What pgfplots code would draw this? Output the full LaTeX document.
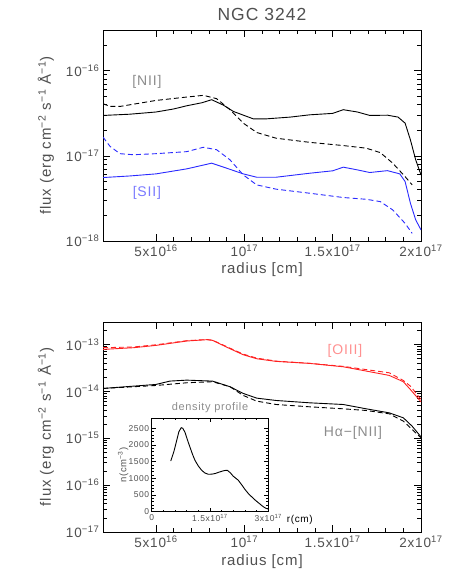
\documentclass[border=0pt]{standalone}
\usepackage{fontspec}
\setmainfont{Liberation Sans}[LetterSpace=6.0]
\usepackage{pgfplots}
\pgfplotsset{compat=1.18}
\definecolor{tg}{HTML}{505050}
\definecolor{lg}{HTML}{8C8C8C}
\definecolor{myblue}{HTML}{2A2AFF}
\definecolor{myred}{HTML}{FF2020}
\definecolor{lblue}{HTML}{7A7AFF}
\definecolor{lred}{HTML}{FF9090}
\tikzset{myln/.style={line width=0.9pt}, mydsh/.style={line width=0.9pt, dash pattern=on 5pt off 3pt}}
\begin{document}
\begin{tikzpicture}
\useasboundingbox (0,0) rectangle (452pt,585pt);
\node[font=\fontsize{17.5}{20}\selectfont, text=tg] at (262pt,571pt) {NGC 3242};
% ---------------- top panel ----------------
\begin{semilogyaxis}[scale only axis, width=318pt, height=211pt, anchor=south west, at={(103pt,344pt)},
    xmin=2, xmax=20, xtick={5,10,15,20},
    xticklabels={5x10\textsuperscript{16},10\textsuperscript{17},1.5x10\textsuperscript{17},2x10\textsuperscript{17}},
    minor x tick num=4, tick align=inside,
    axis line style={line width=1pt},
    major tick length=7pt, minor tick length=4pt,
    tick style={black, line width=0.6pt},
    tick label style={font=\fontsize{13.5}{15}\selectfont, text=tg},
    label style={font=\fontsize{15}{17}\selectfont, text=tg},
    xlabel={radius [cm]},
    ylabel={flux (erg cm\textsuperscript{−2} s\textsuperscript{−1} Å\textsuperscript{−1})},
    ylabel style={at={(axis description cs:-0.18,0.5)},anchor=center},
  ymin=1e-18, ymax=3e-16,
  ytick={1e-18,1e-17,1e-16},
  yticklabels={10\textsuperscript{−18},10\textsuperscript{−17},10\textsuperscript{−16}},
  minor ytick={2e-18,3e-18,4e-18,5e-18,6e-18,7e-18,8e-18,9e-18,2e-17,3e-17,4e-17,5e-17,6e-17,7e-17,8e-17,9e-17,2e-16,3e-16},
  xlabel style={at={(axis description cs:0.5,-0.137)},anchor=center},
]
\addplot[myln, black] coordinates {(2,2.98e-17) (3.5,3.08e-17) (5,3.27e-17) (6,3.55e-17) (6.74,3.87e-17) (7.6,4.2e-17) (8.15,4.56e-17) (8.8,3.95e-17) (9.38,3.32e-17) (10.5,2.72e-17) (11.27,2.72e-17) (12.6,2.85e-17) (13.7,3.03e-17) (15.0,3.15e-17) (15.6,3.48e-17) (16.4,3.27e-17) (17.1,2.98e-17) (18.1,3.0e-17) (18.7,2.85e-17) (19.1,2.42e-17) (19.4,1.54e-17) (19.7,8.97e-18) (20.0,5.97e-18)};
\addplot[mydsh, black] coordinates {(2,4.09e-17) (2.4,3.8e-17) (2.96,3.8e-17) (5,4.47e-17) (6.74,4.9e-17) (7.68,5.13e-17) (8.43,4.69e-17) (9.19,3.48e-17) (9.94,2.42e-17) (10.7,1.88e-17) (11.8,1.61e-17) (13.7,1.44e-17) (15.6,1.32e-17) (16.9,1.23e-17) (17.7,1.09e-17) (18.4,8.2e-18) (19.1,5.7e-18) (19.5,4.56e-18)};
\addplot[myln, myblue] coordinates {(2,5.56e-18) (3.5,5.8e-18) (5,6.14e-18) (6.74,7.03e-18) (8.15,8.2e-18) (9.0,7.16e-18) (9.94,6.14e-18) (10.7,5.61e-18) (11.8,5.61e-18) (13.7,6.25e-18) (15.0,6.67e-18) (15.6,7.36e-18) (16.4,6.84e-18) (17.1,6.37e-18) (18.1,6.7e-18) (18.8,6.14e-18) (19.1,4.99e-18) (19.4,2.78e-18) (19.7,1.77e-18) (20.0,1.35e-18)};
\addplot[mydsh, myblue] coordinates {(2,1.66e-17) (2.4,1.29e-17) (2.96,1.06e-17) (3.72,1.03e-17) (5,1.06e-17) (6.74,1.12e-17) (7.68,1.26e-17) (8.43,1.18e-17) (9.19,8.97e-18) (9.94,5.97e-18) (10.7,4.56e-18) (11.8,4.06e-18) (13.7,3.64e-18) (15.6,3.24e-18) (16.9,3.09e-18) (17.7,2.9e-18) (18.4,2.32e-18) (19.1,1.61e-18) (19.5,1.23e-18)};
\node[font=\fontsize{14}{16}\selectfont, text=lg] at (axis description cs:0.138,0.754) {[NII]};
\node[font=\fontsize{14}{16}\selectfont, text=lblue] at (axis description cs:0.138,0.227) {[SII]};
\end{semilogyaxis}
% ---------------- bottom panel ----------------
\begin{semilogyaxis}[scale only axis, width=318pt, height=210pt, anchor=south west, at={(103pt,53pt)},
    xmin=2, xmax=20, xtick={5,10,15,20},
    xticklabels={5x10\textsuperscript{16},10\textsuperscript{17},1.5x10\textsuperscript{17},2x10\textsuperscript{17}},
    minor x tick num=4, tick align=inside,
    axis line style={line width=1pt},
    major tick length=7pt, minor tick length=4pt,
    tick style={black, line width=0.6pt},
    tick label style={font=\fontsize{13.5}{15}\selectfont, text=tg},
    label style={font=\fontsize{15}{17}\selectfont, text=tg},
    xlabel={radius [cm]},
    ylabel={flux (erg cm\textsuperscript{−2} s\textsuperscript{−1} Å\textsuperscript{−1})},
    ylabel style={at={(axis description cs:-0.18,0.5)},anchor=center},
  ymin=1e-17, ymax=3e-13,
  ytick={1e-17,1e-16,1e-15,1e-14,1e-13},
  yticklabels={10\textsuperscript{−17},10\textsuperscript{−16},10\textsuperscript{−15},10\textsuperscript{−14},10\textsuperscript{−13}},
  minor ytick={2e-17,3e-17,4e-17,5e-17,6e-17,7e-17,8e-17,9e-17,2e-16,3e-16,4e-16,5e-16,6e-16,7e-16,8e-16,9e-16,2e-15,3e-15,4e-15,5e-15,6e-15,7e-15,8e-15,9e-15,2e-14,3e-14,4e-14,5e-14,6e-14,7e-14,8e-14,9e-14,2e-13,3e-13},
  xlabel style={at={(axis description cs:0.5,-0.143)},anchor=center},
]
\addplot[myln, myred] coordinates {(2,7.82e-14) (3.72,8.49e-14) (5,9.52e-14) (6.74,1.18e-13) (7.87,1.26e-13) (8.2,1.22e-13) (9.19,8.08e-14) (9.94,6.01e-14) (10.7,4.94e-14) (11.8,4.34e-14) (13.7,3.93e-14) (15.6,3.33e-14) (16.9,2.7e-14) (18.2,2.18e-14) (19.0,1.6e-14) (19.4,1.09e-14) (20.0,5.97e-15)};
\addplot[mydsh, myred] coordinates {(2,8.5e-14) (3.72,8.8e-14) (5,9.8e-14) (6.74,1.2e-13) (7.87,1.27e-13) (8.2,1.23e-13) (9.19,8.3e-14) (9.94,6.2e-14) (10.7,5.1e-14) (11.8,4.4e-14) (13.7,3.95e-14) (15.6,3.4e-14) (16.9,2.9e-14) (18.2,2.48e-14) (19.0,1.7e-14) (19.4,1.29e-14) (20.0,6.7e-15)};
\addplot[myln, black] coordinates {(2,1.15e-14) (5,1.4e-14) (5.79,1.65e-14) (6.74,1.73e-14) (8.2,1.65e-14) (9.19,1.25e-14) (9.94,9.0e-15) (10.7,7.15e-15) (11.8,6.37e-15) (13.7,5.68e-15) (15.6,5.23e-15) (16.9,4.23e-15) (18.2,3.47e-15) (19.0,2.72e-15) (19.5,1.8e-15) (20.0,1.07e-15)};
\addplot[mydsh, black] coordinates {(2,1.15e-14) (5,1.33e-14) (6.74,1.52e-14) (8.2,1.6e-14) (9.19,1.25e-14) (9.94,8.15e-15) (10.7,6.17e-15) (11.8,5.23e-15) (13.7,4.67e-15) (15.6,4.23e-15) (16.9,3.9e-15) (18.2,3.31e-15) (19.0,2.31e-15) (19.5,1.53e-15) (20.0,1.02e-15)};
\node[font=\fontsize{14}{16}\selectfont, text=lred] at (axis description cs:0.761,0.862) {[OIII]};
\node[font=\fontsize{14}{16}\selectfont, text=lg] at (axis description cs:0.786,0.471) {Hα−[NII]};
\end{semilogyaxis}
% ---------------- inset ----------------
\begin{axis}[scale only axis, anchor=south west, at={(151.7pt,73.3pt)},
  width=116.6pt, height=93.4pt, clip=false,
  xmin=0, xmax=3, ymin=0, ymax=2800,
  xtick={0,1.5,3}, xticklabels={0,1.5x10\textsuperscript{17},3x10\textsuperscript{17}},
  ytick={0,500,1000,1500,2000,2500}, yticklabels={0,500,1000,1500,2000,2500},
  minor x tick num=4, minor y tick num=4, tick align=inside,
  axis line style={line width=0.9pt},
  major tick length=4pt, minor tick length=2pt,
  tick style={black, line width=0.5pt},
  tick label style={font=\fontsize{8.5}{10}\selectfont, text=tg},
  yticklabel style={xshift=1pt},
  xticklabel style={yshift=1pt},
]
\addplot[line width=0.9pt, black] coordinates {(0.489,1518) (0.57,1800) (0.643,2134) (0.70,2400) (0.76,2520) (0.80,2500) (0.857,2380) (0.92,2150) (0.985,1934) (1.05,1720) (1.114,1539) (1.2,1370) (1.286,1241) (1.37,1160) (1.456,1122) (1.54,1125) (1.629,1143) (1.72,1180) (1.801,1211) (1.88,1235) (1.945,1241) (2.02,1170) (2.1,1062) (2.228,943) (2.32,800) (2.4,667) (2.49,540) (2.573,446) (2.68,330) (2.786,229) (2.87,150) (2.94,101) (3.0,80)};
\node[font=\fontsize{11}{12}\selectfont, text=lg] at (axis description cs:0.5,1.11) {density profile};
\node[font=\fontsize{9.5}{11}\selectfont, text=tg, rotate=90] at (axis description cs:-0.245,0.5) {n(cm\textsuperscript{−3})};
\node[font=\fontsize{10}{12}\selectfont, text=black] at (axis description cs:1.27,-0.09) {r(cm)};
\end{axis}
\end{tikzpicture}
\end{document}
